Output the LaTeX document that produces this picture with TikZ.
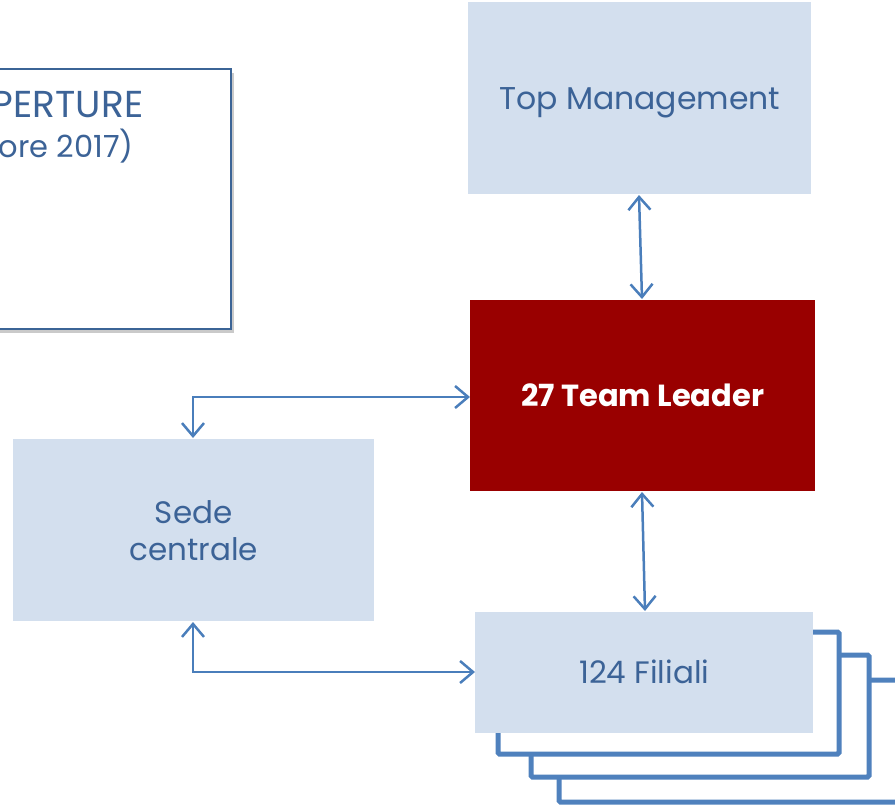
\documentclass[tikz,border=0pt]{standalone}
\usepackage{fontspec}
\setmainfont{Poppins}
\usetikzlibrary{arrows.meta,shadows}
\definecolor{lightbox}{HTML}{D3DFEE}
\definecolor{darkred}{HTML}{990000}
\definecolor{txtblue}{HTML}{3C6397}
\definecolor{arrblue}{HTML}{4A7EBB}
\definecolor{stackblue}{HTML}{4F81BD}
\definecolor{frameblue}{HTML}{3B6496}
\tikzset{
  lbox/.style={fill=lightbox, draw=none, anchor=north west, inner sep=0pt, text=txtblue, align=center},
  capcenter/.style={text height=#1, text depth=0pt},
  stackframe/.style={draw=stackblue, line width=5pt, fill=white, rounded corners=1.5pt},
  conn/.style={draw=arrblue, line width=2.5pt, {Straight Barb[length=13pt,width=22pt,line width=2.5pt]}-{Straight Barb[length=13pt,width=22pt,line width=2.5pt]}},
}
\begin{document}
\begin{tikzpicture}[x=1pt,y=-1pt]
\useasboundingbox (0,0) rectangle (895,806);
\clip (0,0) rectangle (895,806);
% top-left box
\node[draw=frameblue, line width=1.5pt, fill=white, anchor=north west, minimum width=250pt, minimum height=260pt, inner sep=0pt,
  drop shadow={shadow xshift=3pt, shadow yshift=-4pt, opacity=0.35, fill=black!60}] (info) at (-20,68) {};
\node[anchor=base east, inner sep=0pt, text=txtblue, font=\fontsize{37.5}{40}\selectfont] (t1) at (143.5,117) {PERTURE};
\node[anchor=base east, inner sep=0pt, text=txtblue, font=\fontsize{30.5}{34}\selectfont] (t2) at (134,157) {ore 2017)};
% stacked frames
\draw[stackframe] (559,680) rectangle (905,802);
\draw[stackframe] (531,655) rectangle (869,777);
\draw[stackframe] (498,632) rectangle (839,754);
% boxes
\node[lbox, minimum width=343pt, minimum height=192pt, capcenter=23pt, font=\fontsize{31.5}{36}\selectfont] (top) at (468,2) {Top Management};
\node[fill=darkred, anchor=north west, inner sep=0pt, minimum width=345pt, minimum height=191pt, capcenter=22pt, text=white, font=\bfseries\fontsize{30.5}{34}\selectfont] (tl) at (470,300) {27 Team Leader};
\node[lbox, minimum width=361pt, minimum height=182pt, font=\fontsize{31}{37}\selectfont] (sede) at (13,439) {Sede\\centrale};
\node[lbox, minimum width=338pt, minimum height=121pt, capcenter=22pt, font=\fontsize{31}{36}\selectfont] (fil) at (475,612) {124 Filiali};
% connectors
\coordinate (c1) at (193,397);
\coordinate (c2) at (193,672);
\draw[conn] (639,195) -- (642,299);
\draw[conn] (642,492) -- (645,611);
\draw[conn] (193,438) -- (c1) -- (tl.west |- c1);
\draw[conn] (193,622) -- (c2) -- (fil.west |- c2);
\end{tikzpicture}
\end{document}
